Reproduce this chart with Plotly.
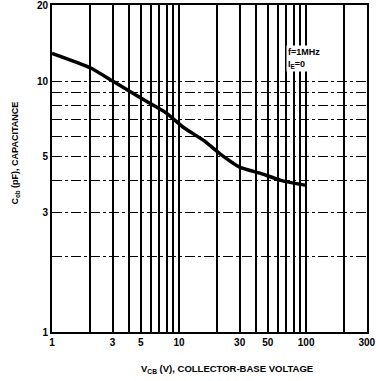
import numpy as np
import plotly.graph_objects as go

# Data
vcb = [1, 2, 3, 5, 7.8, 11, 15.6, 21, 30, 45, 63, 100]
cob = [12.9, 11.3, 10.0, 8.55, 7.5, 6.5, 5.8, 5.13, 4.54, 4.27, 4.02, 3.84]

x_tick_vals = [1, 3, 5, 10, 30, 50, 100, 300]
x_tick_text = ["1", "3", "5", "10", "30", "50", "100", "300"]
x_minor_vals = [2, 4, 6, 7, 8, 9, 20, 40, 60, 70, 80, 90, 200]

y_tick_vals = [1, 3, 5, 10, 20]
y_tick_text = ["1", "3", "5", "10", "20"]
y_minor_vals = [2, 4, 6, 7, 8, 9]

FONT = "Liberation Sans"

fig = go.Figure()
fig.add_trace(go.Scatter(
    x=vcb, y=cob, mode="lines",
    line=dict(color="black", width=3.5, shape="spline", smoothing=0.5),
    hoverinfo="skip", showlegend=False,
))

fig.update_xaxes(
    type="log", range=[0, np.log10(300) + 0.002],
    tickmode="array", tickvals=x_tick_vals,
    ticktext=["<b>%s</b>" % t for t in x_tick_text],
    ticks="", showgrid=True, gridcolor="black", gridwidth=1.5,
    minor=dict(tickmode="array", tickvals=x_minor_vals, showgrid=True,
               gridcolor="black", gridwidth=1.5, ticks=""),
    showline=True, linecolor="black", linewidth=2, mirror=True,
    zeroline=False, ticklabeloverflow="allow",
    tickfont=dict(family=FONT, size=10, color="black"),
)
fig.update_yaxes(
    type="log", range=[0, np.log10(20) + 0.002],
    tickmode="array", tickvals=y_tick_vals,
    ticktext=["<b>%s</b>" % t for t in y_tick_text],
    ticks="", showgrid=True, gridcolor="black", gridwidth=1.2,
    griddash="10px,3px,3px,3px",
    minor=dict(tickmode="array", tickvals=y_minor_vals, showgrid=True,
               gridcolor="black", gridwidth=1.2, griddash="10px,3px,3px,3px",
               ticks=""),
    showline=True, linecolor="black", linewidth=2, mirror=True,
    zeroline=False, ticklabeloverflow="allow",
    tickfont=dict(family=FONT, size=10, color="black"),
)

fig.add_annotation(
    xref="paper", yref="paper", x=-0.117, y=0.546,
    text="<b>C<sub>ob</sub> (pF), CAPACITANCE</b>", textangle=-90,
    showarrow=False, font=dict(family=FONT, size=9, color="black"),
    xanchor="center", yanchor="middle",
)
fig.add_annotation(
    xref="paper", yref="paper", x=0.556, y=-0.113,
    text="<b>V<sub>CB</sub> (V), COLLECTOR-BASE VOLTAGE</b>",
    showarrow=False, font=dict(family=FONT, size=9.5, color="black"),
    xanchor="center", yanchor="middle",
)
fig.add_annotation(
    xref="paper", yref="paper", x=0.742, y=0.837,
    text="<b>f=1MHz<br>I<sub>E</sub>=0</b>", align="left",
    showarrow=False, font=dict(family=FONT, size=9, color="black"),
    xanchor="left", yanchor="middle", bgcolor="white",
)

fig.update_layout(
    width=376, height=381,
    margin=dict(l=52, r=0, t=4, b=49),
    paper_bgcolor="white", plot_bgcolor="white",
    showlegend=False,
)

fig.write_html("out.html")
